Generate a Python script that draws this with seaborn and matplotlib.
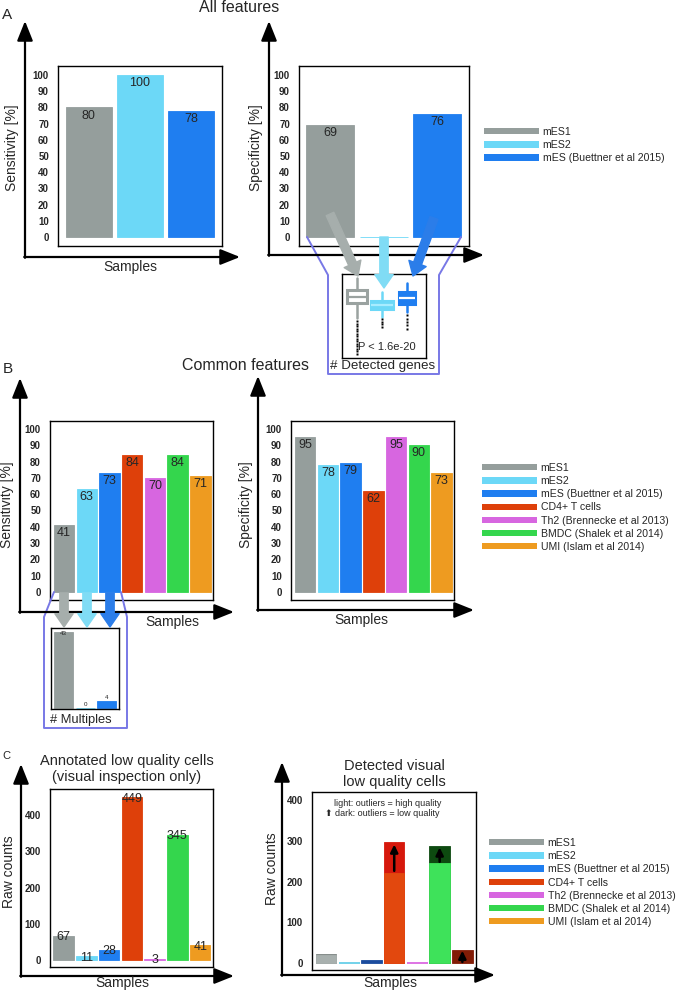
import matplotlib
matplotlib.use("Agg")
import matplotlib.pyplot as plt
from matplotlib.patches import Patch
import seaborn as sns

# ====== DATA ======
samples_a = ["mES1", "mES2", "mES (Buettner et al 2015)"]
sens_all = [80, 100, 78]
spec_all = [69, 0, 76]

samples_b = ["mES1", "mES2", "mES (Buettner et al 2015)", "CD4+ T cells",
             "Th2 (Brennecke et al 2013)", "BMDC (Shalek et al 2014)",
             "UMI (Islam et al 2014)"]
sens_common = [41, 63, 73, 84, 70, 84, 71]
spec_common = [95, 78, 79, 62, 95, 90, 73]

multiples = [43, 0, 4]

annotated_low = [67, 11, 28, 449, 3, 345, 41]
detected_light = [20, 2, 0, 220, 2, 245, 0]   # outliers = high quality
detected_dark = [3, 0, 8, 77, 0, 42, 33]      # outliers = low quality

# detected genes per sample (relative scale 0-100), box summaries
box_med = [73, 63, 71]
box_q1 = [65.5, 58, 64]
box_q3 = [81, 68, 79]
box_lo = [48, 49, 55]
box_hi = [95, 79, 89]
fliers_mes1 = [44, 41, 38, 35, 32, 29, 26, 23, 20, 17, 14, 11, 8, 5]
fliers_mes2 = [46, 43, 40, 37]
fliers_mes = [51, 47, 43, 39, 35]
pval_text = "P < 1.6e-20"

pal = {
    "mES1": "#959e9c",
    "mES2": "#6cd8f7",
    "mES (Buettner et al 2015)": "#1f7ef0",
    "CD4+ T cells": "#de400a",
    "Th2 (Brennecke et al 2013)": "#d766e0",
    "BMDC (Shalek et al 2014)": "#34d64d",
    "UMI (Islam et al 2014)": "#ee9b20",
}
light_pal = dict(zip(samples_b, ["#a8b0ae", "#78d6ec", "#3a7fe0", "#e2480e",
                                 "#e27ae8", "#3ee25a", "#ee9b20"]))
dark_pal = dict(zip(samples_b, ["#7d8583", "#4cb8d8", "#1b4c9e", "#d6180c",
                                "#b040b8", "#0d4a10", "#821c06"]))

sns.set_theme(style="white")
plt.rcParams["font.family"] = ["Liberation Sans", "DejaVu Sans"]

W, H = 676, 992
fig = plt.figure(figsize=(W / 100, H / 100), dpi=100)


def px_axes(x0, y0, x1, y1):
    return fig.add_axes([x0 / W, 1 - y1 / H, (x1 - x0) / W, (y1 - y0) / H])


def style_frame(ax):
    for s in ax.spines.values():
        s.set_color("black")
        s.set_linewidth(1.0)
    ax.set_xlabel("")
    ax.set_ylabel("")
    ax.set_xticks([])


def bar_panel(box, names, values, ylim, xlim, yticks, palette=pal, width=0.9):
    ax = px_axes(*box)
    sns.barplot(x=names, y=values, hue=names, order=names, hue_order=names,
                palette=palette, width=width, saturation=1, legend=False, ax=ax)
    for p in ax.patches:
        p.set_edgecolor(p.get_facecolor())
        p.set_linewidth(0.6)
    ax.set_xlim(*xlim)
    ax.set_ylim(*ylim)
    style_frame(ax)
    ax.set_yticks(yticks)
    ax.tick_params(axis="y", length=0, pad=6.5, labelsize=7)
    for t in ax.get_yticklabels():
        t.set_fontweight("bold")
    return ax


def labels_top(ax, values, fs=9, skip_zero=True):
    for i, v in enumerate(values):
        if skip_zero and v == 0:
            continue
        ax.annotate(f"{v}", (i, v), xytext=(0, -1.5), textcoords="offset points",
                    ha="center", va="top", fontsize=fs)


def legend_at(names, x, ytop):
    handles = [Patch(facecolor=pal[n], edgecolor="none") for n in names]
    fig.legend(handles, names, loc="upper left",
               bbox_to_anchor=(x / W, 1 - ytop / H), frameon=False,
               fontsize=7.6, handlelength=5.2, handleheight=0.55,
               handletextpad=0.35, labelspacing=0.3, borderpad=0,
               borderaxespad=0)


pct_ticks = list(range(0, 101, 10))

# ====== A: all features ======
ax = bar_panel((58, 66, 222, 246), samples_a, sens_all, (-5.6, 105.6), (-0.6, 2.6), pct_ticks)
labels_top(ax, sens_all)
ax = bar_panel((299, 66, 469, 246), samples_a, spec_all, (-5.6, 105.6), (-0.585, 2.6), pct_ticks)
labels_top(ax, spec_all)
legend_at(samples_a, 484, 127)

# detected genes inset
axb = px_axes(342, 274, 426, 358)
fl = [fliers_mes1, fliers_mes2, fliers_mes]
box_face = ["white", pal["mES2"], pal["mES (Buettner et al 2015)"]]
box_edge = ["#9aa2a0", pal["mES2"], pal["mES (Buettner et al 2015)"]]
med_col = ["#9aa2a0", "#a8ecff", "white"]
widths = [0.82, 0.85, 0.65]
for i in range(3):
    st = dict(med=box_med[i], q1=box_q1[i], q3=box_q3[i], whislo=box_lo[i],
              whishi=box_hi[i], fliers=fl[i])
    axb.bxp([st], positions=[i], widths=widths[i], patch_artist=True,
            showcaps=False,
            boxprops=dict(facecolor=box_face[i], edgecolor=box_edge[i], linewidth=2.2),
            medianprops=dict(color=med_col[i], linewidth=1.6),
            whiskerprops=dict(color=box_edge[i], linewidth=1.8),
            flierprops=dict(marker="s", markersize=1.6, markerfacecolor="black",
                            markeredgecolor="none"))
axb.set_xlim(-0.6, 2.76)
axb.set_ylim(0, 100)
style_frame(axb)
axb.set_yticks([])
axb.text(0.06, 13, pval_text, fontsize=8, ha="left", va="center", clip_on=True)

# ====== B: common features ======
ax = bar_panel((50, 421, 213, 600), samples_b, sens_common, (-4.9, 104.9), (-0.62, 6.56), pct_ticks)
labels_top(ax, sens_common)
ax = bar_panel((291, 421, 454, 600), samples_b, spec_common, (-4.9, 104.9), (-0.62, 6.55), pct_ticks)
labels_top(ax, spec_common)
legend_at(samples_b, 482, 463)

# multiples inset
axm = bar_panel((51, 628, 119, 709), samples_a, multiples, (-0.6, 45.3), (-0.57, 2.56), [], width=0.87)
axm.tick_params(axis="y", left=False, labelleft=False)
for i, v in enumerate(multiples):
    axm.annotate(f"{v}", (i, v), xytext=(0, 0.5), textcoords="offset points",
                 ha="center", va="top" if v > 10 else "bottom", fontsize=4.5)

# ====== C: low quality cells ======
ax = bar_panel((50, 789, 213, 967), samples_b, annotated_low, (-19, 471.7), (-0.59, 6.56),
               [0, 100, 200, 300, 400])
for i, v in enumerate(annotated_low):
    ax.annotate(f"{v}", (i, v), xytext=(0, -1), textcoords="offset points",
                ha="center", va="center", fontsize=9)

totals = [l + d for l, d in zip(detected_light, detected_dark)]
c_xlim, c_ylim = (-0.62, 6.6), (-17, 419.6)
axc = bar_panel((312, 792, 476, 970), samples_b, totals, c_ylim, c_xlim,
                [0, 100, 200, 300, 400], palette=dark_pal)
n_dark = len(axc.patches)
sns.barplot(x=samples_b, y=detected_light, hue=samples_b, order=samples_b,
            hue_order=samples_b, palette=light_pal, width=0.9, saturation=1,
            legend=False, ax=axc)
for p in axc.patches[n_dark:]:
    p.set_edgecolor(p.get_facecolor())
    p.set_linewidth(0.6 if p.get_height() > 0 else 0)
axc.set_xlim(*c_xlim)
axc.set_ylim(*c_ylim)
axc.set_xticks([])
axc.set_xlabel("")
axc.set_ylabel("")
for i, (l, d) in enumerate(zip(detected_light, detected_dark)):
    if d >= 30:
        axc.annotate("", xy=(i, l + d * 0.92), xytext=(i, l + d * 0.08),
                     arrowprops=dict(arrowstyle="-|>,head_length=0.45,head_width=0.22",
                                     color="black", lw=1.8, shrinkA=0, shrinkB=0,
                                     mutation_scale=10))
legend_at(samples_b, 489, 838)

# ====== overlay: axes arrows, titles, links ======
ov = fig.add_axes([0, 0, 1, 1])
ov.set_xlim(0, W)
ov.set_ylim(H, 0)
ov.axis("off")


def axis_arrows(corner, top_y, right_x):
    cx, cy = corner
    kw = dict(arrowstyle="-|>,head_length=1.0,head_width=0.4", color="black",
              lw=1.6, shrinkA=0, shrinkB=0, mutation_scale=12)
    ov.annotate("", xy=(cx, top_y), xytext=(cx, cy + 0.8), arrowprops=kw)
    ov.annotate("", xy=(right_x, cy), xytext=(cx - 0.8, cy), arrowprops=kw)


axis_arrows((25, 257), 21, 240)
axis_arrows((269, 255), 21, 484)
axis_arrows((20, 612), 378, 234)
axis_arrows((258, 610), 376, 474)
axis_arrows((21, 976), 764, 234)
axis_arrows((282, 975), 762, 495)

purple = "#7878e6"
ov.plot([307, 328, 328, 439, 439, 461], [237, 275, 374, 374, 275, 237], color=purple, lw=1.4)
ov.plot([54, 44, 44, 127, 127, 121], [592, 617, 728, 728, 617, 592], color=purple, lw=1.4)


def thick_arrow(start, end, color):
    ov.annotate("", xy=end, xytext=start,
                arrowprops=dict(arrowstyle="simple,head_length=0.8,head_width=1.1,tail_width=0.5",
                                color=color, shrinkA=0, shrinkB=0, mutation_scale=12))


thick_arrow((330, 214), (358, 276), "#a6aeac")
thick_arrow((384, 237), (384, 288), "#80dcf5")
thick_arrow((434, 218), (413, 276), "#2b7de9")
thick_arrow((64, 593), (64, 627), "#a6aeac")
thick_arrow((87, 593), (87, 627), "#80dcf5")
thick_arrow((110, 593), (110, 627), "#2b7de9")

ov.text(383, 366, "# Detected genes", fontsize=9.6, ha="center", va="center")
ov.text(81, 720, "# Multiples", fontsize=9.3, ha="center", va="center")

ov.text(7, 15, "A", fontsize=11, ha="center", va="center")
ov.text(8, 369, "B", fontsize=11, ha="center", va="center")
ov.text(6, 756, "C", fontsize=8, ha="center", va="center")
ov.text(239, 7, "All features", fontsize=11.5, ha="center", va="center")
ov.text(246, 365, "Common features", fontsize=11.5, ha="center", va="center")
ov.text(127, 769, "Annotated low quality cells\n(visual inspection only)", fontsize=10.5,
        ha="center", va="center", linespacing=1.15)
ov.text(394, 774, "Detected visual\nlow quality cells", fontsize=10.5,
        ha="center", va="center", linespacing=1.15)
ov.text(388, 803, "light: outliers = high quality", fontsize=6.5, ha="center", va="center")
ov.text(382, 814, "\u2b06 dark: outliers = low quality", fontsize=6.5, ha="center", va="center")

for x, y, t in [(12, 148, "Sensitivity [%]"), (256, 148, "Specificity [%]"),
                (7, 505, "Sensitivity [%]"), (246, 505, "Specificity [%]"),
                (9, 872, "Raw counts"), (272, 869, "Raw counts")]:
    ov.text(x, y, t, fontsize=10, rotation=90, ha="center", va="center")
for x, y, t in [(130, 267, "Samples"), (172, 622, "Samples"), (361, 620, "Samples"),
                (122, 983, "Samples"), (390, 983, "Samples")]:
    ov.text(x, y, t, fontsize=10, ha="center", va="center")

fig.savefig("out.png", dpi=100, facecolor="white")
